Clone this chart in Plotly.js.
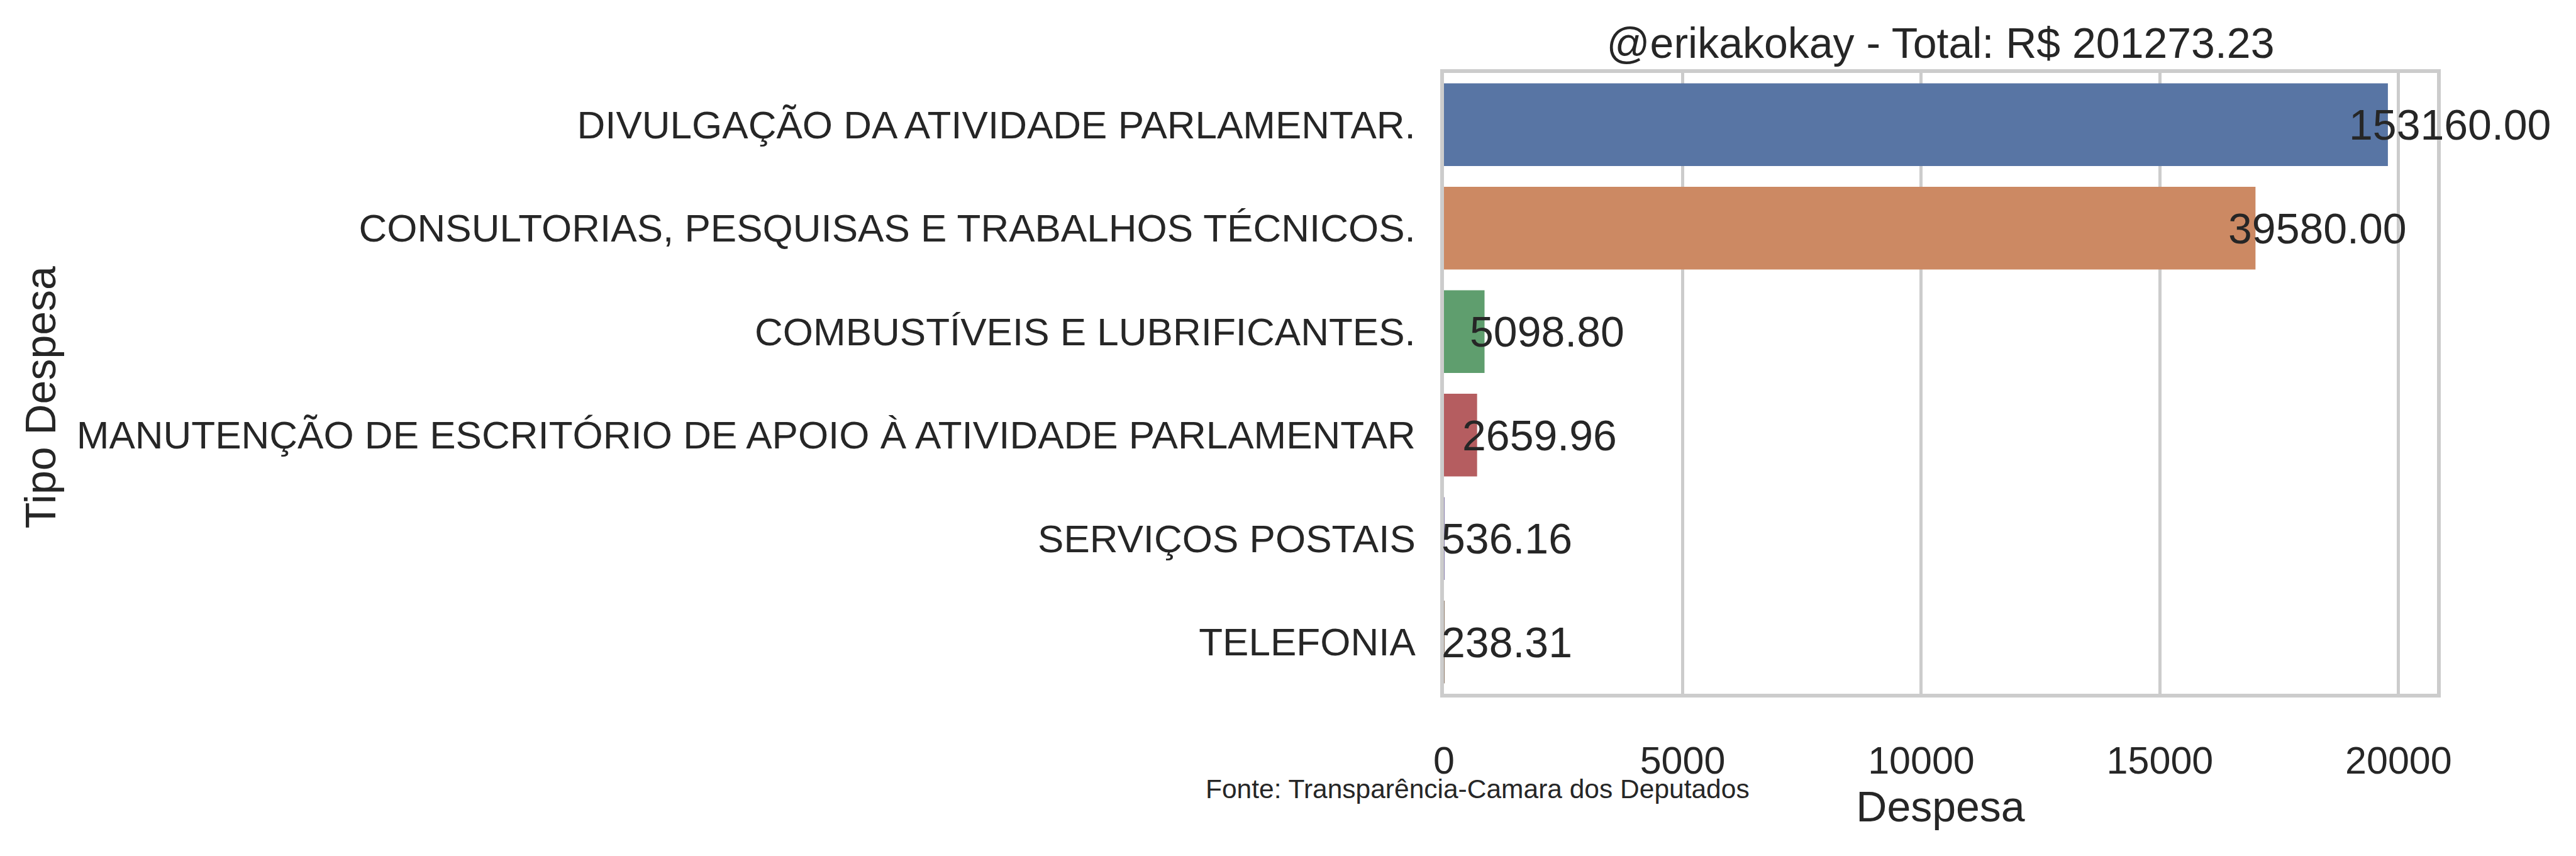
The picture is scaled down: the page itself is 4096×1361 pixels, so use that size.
<!DOCTYPE html>
<html><head><meta charset="utf-8">
<script src="https://cdn.plot.ly/plotly-3.0.1.min.js"></script>
<style>html,body{margin:0;padding:0;background:#fff}</style>
</head><body><div id="chart" style="width:4096px;height:1361px"></div>
<script>
const categories = [
  "DIVULGAÇÃO DA ATIVIDADE PARLAMENTAR.",
  "CONSULTORIAS, PESQUISAS E TRABALHOS TÉCNICOS.",
  "COMBUSTÍVEIS E LUBRIFICANTES.",
  "MANUTENÇÃO DE ESCRITÓRIO DE APOIO À ATIVIDADE PARLAMENTAR",
  "SERVIÇOS POSTAIS",
  "TELEFONIA"
];
const barValues = [19776, 17002, 850, 694, 12, 10];
const totalLabels = ["153160.00", "39580.00", "5098.80", "2659.96", "536.16", "238.31"];
const barColors = ["#5875a4", "#cc8963", "#5f9e6e", "#b55d60", "#857aab", "#8d7866"];
const xTickValues = [0, 5000, 10000, 15000, 20000];
const titleText = "@erikakokay - Total: R$ 201273.23";
const xTitle = "Despesa";
const yTitle = "Tipo Despesa";
const sourceText = "Fonte: Transparência-Camara dos Deputados";

const FONT = "Liberation Sans, Arial, sans-serif";
const TXT = "#262626";

const trace = {
  type: "bar",
  orientation: "h",
  x: barValues,
  y: categories,
  width: 0.8,
  marker: {color: barColors, line: {width: 0}},
  hoverinfo: "x+y",
  showlegend: false
};

const annotations = categories.map((c, i) => ({
  x: barValues[i], y: c, xref: "x", yref: "y",
  text: totalLabels[i], showarrow: false,
  xanchor: "center", yanchor: "middle", xshift: 99,
  font: {family: FONT, size: 68, color: TXT}
}));
annotations.push({
  x: 0.0336, y: -0.153, xref: "paper", yref: "paper",
  text: sourceText, showarrow: false,
  xanchor: "center", yanchor: "middle",
  font: {family: FONT, size: 42.5, color: TXT}
});
annotations.push({
  x: -1.4136, y: 0.478, xref: "paper", yref: "paper",
  text: yTitle, showarrow: false, textangle: -90,
  xanchor: "center", yanchor: "middle",
  font: {family: FONT, size: 68, color: TXT}
});

const layout = {
  width: 4096, height: 1361,
  margin: {l: 2296, r: 221, t: 116, b: 258, pad: 0},
  paper_bgcolor: "#ffffff", plot_bgcolor: "#ffffff",
  font: {family: FONT, color: TXT},
  title: {
    text: titleText,
    font: {family: FONT, size: 68, color: TXT},
    x: 0.5, xref: "paper", xanchor: "center",
    y: 1, yref: "paper", yanchor: "bottom",
    pad: {b: 24}
  },
  xaxis: {
    range: [0, 20805],
    tickvals: xTickValues,
    ticktext: xTickValues.map(String),
    ticks: "",
    showgrid: true, gridcolor: "#cccccc", gridwidth: 4.5,
    zeroline: false,
    showline: true, mirror: true, linecolor: "#cccccc", linewidth: 5.7,
    tickfont: {family: FONT, size: 61, color: TXT},
    ticklabelstandoff: 48,
    title: {text: xTitle, font: {family: FONT, size: 68, color: TXT}, standoff: 18}
  },
  yaxis: {
    type: "category",
    categoryorder: "array", categoryarray: categories,
    autorange: "reversed",
    ticks: "",
    showgrid: false, zeroline: false,
    showline: true, mirror: true, linecolor: "#cccccc", linewidth: 5.7,
    tickfont: {family: FONT, size: 62, color: TXT},
    ticklabelstandoff: 27
  },
  annotations: annotations,
  bargap: 0.2
};

Plotly.newPlot("chart", [trace], layout, {displayModeBar: false, responsive: false});
</script></body></html>
